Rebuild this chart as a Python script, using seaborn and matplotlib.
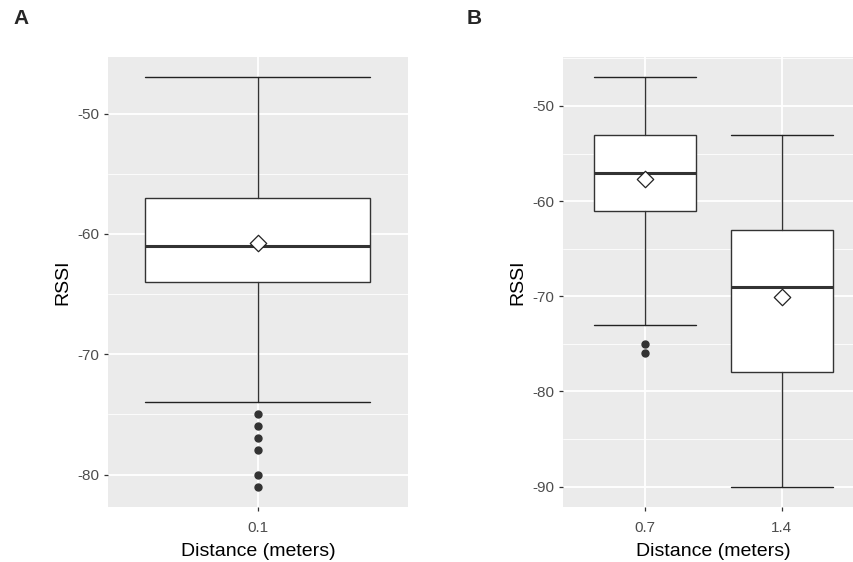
import numpy as np
import seaborn as sns
import matplotlib.pyplot as plt
from matplotlib.ticker import MultipleLocator

# panel A: one distance
dist_a = ["0.1"]
a_whislo = [-74]
a_q1 = [-64]
a_med = [-61]
a_q3 = [-57]
a_whishi = [-47]
a_mean = [-60.8]
a_fliers = [[-75, -76, -77, -78, -80, -81]]

# panel B: two distances
dist_b = ["0.7", "1.4"]
b_whislo = [-73, -90]
b_q1 = [-61, -78]
b_med = [-57, -69]
b_q3 = [-53, -63]
b_whishi = [-47, -53]
b_mean = [-57.7, -70.1]
b_fliers = [[-75, -76], []]

sns.set_theme(style="darkgrid", rc={
    'axes.facecolor': '#EBEBEB',
    'grid.color': 'white',
    'grid.linewidth': 1.3,
    'axes.edgecolor': '#EBEBEB',
})
plt.rcParams['font.family'] = ['Liberation Sans', 'DejaVu Sans']

fig = plt.figure(figsize=(8.54, 5.62), dpi=100)
W, H = 854, 562
ax_a = fig.add_axes([108 / W, (H - 507) / H, 300 / W, 450 / H])
ax_b = fig.add_axes([563 / W, (H - 507) / H, 301 / W, 450 / H])


def draw_panel(ax, labels, whislo, q1, med, q3, whishi, means, fliers, width, ylim, yticks):
    stats = []
    for i in range(len(labels)):
        stats.append(dict(whislo=whislo[i], q1=q1[i], med=med[i], q3=q3[i],
                          whishi=whishi[i], fliers=fliers[i], label=labels[i]))
    pos = np.arange(len(labels))
    ax.bxp(stats, positions=pos, widths=width, capwidths=width, patch_artist=True,
           boxprops=dict(facecolor='white', edgecolor='#333333', linewidth=1.0),
           medianprops=dict(color='#333333', linewidth=2.2),
           whiskerprops=dict(color='#333333', linewidth=1.0),
           capprops=dict(color='#222222', linewidth=1.0),
           flierprops=dict(marker='o', markerfacecolor='#333333', markeredgecolor='#333333',
                           markersize=5),
           zorder=3)
    sns.scatterplot(x=pos, y=means, marker='D', s=70, color='white', edgecolor='#222222',
                    linewidth=0.9, zorder=5, ax=ax, legend=False)
    ax.set_xlim(-0.6, len(labels) - 0.4)
    ax.set_xticks(pos)
    ax.set_xticklabels(labels)
    ax.set_ylim(*ylim)
    ax.set_yticks(yticks)
    ax.set_yticklabels([str(t) for t in yticks])
    ax.yaxis.set_minor_locator(MultipleLocator(5))
    ax.grid(which='major', color='white', linewidth=1.3)
    ax.grid(which='minor', axis='y', color='white', linewidth=0.6)
    ax.set_axisbelow(True)
    ax.tick_params(axis='both', which='major', length=3, width=0.9, color='#333333',
                   labelcolor='#4D4D4D', labelsize=11, left=True, bottom=True)
    ax.tick_params(axis='x', pad=7)
    ax.tick_params(axis='y', pad=3.5)
    ax.tick_params(which='minor', length=0)
    ax.set_xlabel('Distance (meters)', fontsize=14, color='black', labelpad=6)
    ax.set_ylabel('RSSI', fontsize=14, color='black', labelpad=4)
    for s in ax.spines.values():
        s.set_visible(False)


draw_panel(ax_a, dist_a, a_whislo, a_q1, a_med, a_q3, a_whishi, a_mean, a_fliers,
           0.9, (-82.7, -45.3), [-80, -70, -60, -50])
draw_panel(ax_b, dist_b, b_whislo, b_q1, b_med, b_q3, b_whishi, b_mean, b_fliers,
           0.75, (-92.15, -44.85), [-90, -80, -70, -60, -50])

fig.text(13 / W, 1 - 19 / H, 'A', fontsize=15, fontweight='bold', va='center', ha='left')
fig.text(467 / W, 1 - 19 / H, 'B', fontsize=15, fontweight='bold', va='center', ha='left')

fig.savefig('out.png', dpi=100)
